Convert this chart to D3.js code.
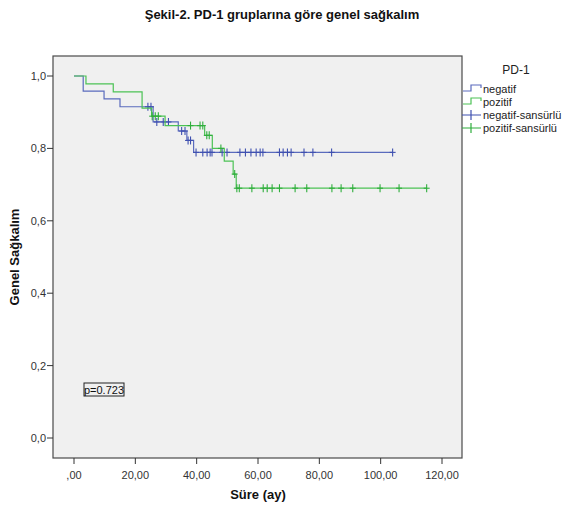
<!DOCTYPE html>
<html>
<head>
<meta charset="utf-8">
<script src="https://cdn.jsdelivr.net/npm/d3@7"></script>
<style>
  body { margin: 0; background: #fff; }
  text { font-family: Arial, "Liberation Sans", sans-serif; }
</style>
</head>
<body>
<svg id="chart" width="563" height="505"></svg>
<script>
// KM step points: time (months) and survival after each step
const negTimes = [0, 3.0, 9.8, 15.0, 25.8, 34.0, 36.8, 39.0]
const negSurv = [1, 0.958, 0.937, 0.915, 0.873, 0.848, 0.822, 0.789]
const negEnd = 103.9
const negCens = [24.1, 25.1, 27.0, 29.1, 30.8, 35.1, 36.2, 37.2, 38.0, 39.8, 42.0, 43.4,
  44.4, 45.0, 48.3, 49.9, 54.1, 55.9, 57.7, 59.4, 60.7, 61.6, 67.0, 68.2, 69.6, 70.8,
  75.0, 77.9, 84.0, 103.9]

const posTimes = [0, 3.9, 12.8, 22.2, 25.3, 29.7, 42.6, 45.1, 49.0, 51.9, 52.9]
const posSurv = [1, 0.978, 0.956, 0.911, 0.889, 0.863, 0.836, 0.80, 0.765, 0.729, 0.690]
const posEnd = 115.0
const posCens = [25.5, 26.5, 27.5, 38.0, 41.1, 42.0, 43.3, 44.1, 47.9, 52.4, 53.1, 53.9,
  58.0, 61.7, 63.0, 64.6, 67.0, 72.1, 75.9, 84.1, 87.1, 90.9, 99.8, 106.0, 115.0]

const xTicks = [0, 20, 40, 60, 80, 100, 120]
const yTicks = [0, 0.2, 0.4, 0.6, 0.8, 1.0]
const legendLabels = ['negatif', 'pozitif', 'negatif-sansürlü', 'pozitif-sansürlü']

const blue = '#5a6bbd'
const blueMark = '#3f50b0'
const green = '#4cc255'
const greenMark = '#2fae3c'

const svg = d3.select('#chart')

const x = d3.scaleLinear().domain([0, 120]).range([74, 442])
const y = d3.scaleLinear().domain([0, 1]).range([438, 76])

const frame = { left: 53, top: 56, right: 462, bottom: 458 }

svg.append('rect')
  .attr('x', frame.left).attr('y', frame.top)
  .attr('width', frame.right - frame.left).attr('height', frame.bottom - frame.top)
  .attr('fill', '#f0f0f0').attr('stroke', '#4a4a4a').attr('stroke-width', 1.2)

// title
svg.append('text')
  .attr('x', 282).attr('y', 19).attr('text-anchor', 'middle')
  .attr('font-size', 13).attr('font-weight', 'bold').attr('fill', '#111')
  .text('Şekil-2. PD-1 gruplarına göre genel sağkalım')

// y axis
const yAxis = svg.append('g')
yAxis.selectAll('line').data(yTicks).join('line')
  .attr('x1', frame.left - 6).attr('x2', frame.left)
  .attr('y1', d => y(d)).attr('y2', d => y(d))
  .attr('stroke', '#333')
yAxis.selectAll('text').data(yTicks).join('text')
  .attr('x', frame.left - 7).attr('y', d => y(d) + 4)
  .attr('text-anchor', 'end').attr('font-size', 11).attr('fill', '#333')
  .text(d => d3.format('.1f')(d).replace('.', ','))

// x axis
const xAxis = svg.append('g')
xAxis.selectAll('line').data(xTicks).join('line')
  .attr('x1', d => x(d)).attr('x2', d => x(d))
  .attr('y1', frame.bottom).attr('y2', frame.bottom + 6)
  .attr('stroke', '#333')
xAxis.selectAll('text').data(xTicks).join('text')
  .attr('x', d => x(d)).attr('y', frame.bottom + 21)
  .attr('text-anchor', 'middle').attr('font-size', 11).attr('fill', '#333')
  .text(d => d === 0 ? ',00' : d3.format('.2f')(d).replace('.', ','))

svg.append('text')
  .attr('x', 258).attr('y', 499).attr('text-anchor', 'middle')
  .attr('font-size', 13).attr('font-weight', 'bold').attr('fill', '#111')
  .text('Süre (ay)')

svg.append('text')
  .attr('transform', 'translate(19,257) rotate(-90)')
  .attr('text-anchor', 'middle')
  .attr('font-size', 13).attr('font-weight', 'bold').attr('fill', '#111')
  .text('Genel Sağkalım')

// curves
function survAt(times, surv, t) {
  let s = surv[0]
  times.forEach((tt, i) => { if (tt <= t) s = surv[i] })
  return s
}

const line = d3.line().x(d => x(d[0])).y(d => y(d[1])).curve(d3.curveStepAfter)

function drawGroup(times, surv, end, cens, col, markCol) {
  const pts = times.map((t, i) => [t, surv[i]])
  pts.push([end, surv[surv.length - 1]])
  svg.append('path').datum(pts)
    .attr('d', line).attr('fill', 'none')
    .attr('stroke', col).attr('stroke-width', 1.2)
  const g = svg.append('g').attr('stroke', markCol).attr('stroke-width', 1.1)
  cens.forEach(t => {
    const cx = x(t), cy = y(survAt(times, surv, t))
    g.append('line').attr('x1', cx).attr('x2', cx).attr('y1', cy - 4).attr('y2', cy + 4)
    g.append('line').attr('x1', cx - 3).attr('x2', cx + 3).attr('y1', cy).attr('y2', cy)
  })
}

drawGroup(negTimes, negSurv, negEnd, negCens, blue, blueMark)
drawGroup(posTimes, posSurv, posEnd, posCens, green, greenMark)

// p value box
svg.append('rect')
  .attr('x', 84).attr('y', 383).attr('width', 40).attr('height', 13)
  .attr('fill', 'none').attr('stroke', '#222').attr('stroke-width', 1)
svg.append('text')
  .attr('x', 104).attr('y', 393.5).attr('text-anchor', 'middle')
  .attr('font-size', 11).attr('fill', '#111').text('p=0.723')

// legend
svg.append('text')
  .attr('x', 516).attr('y', 74).attr('text-anchor', 'middle')
  .attr('font-size', 12).attr('fill', '#222').text('PD-1')

const legY = [89, 102, 115, 128]
const legCols = [blue, green, blueMark, greenMark]
legendLabels.forEach((lab, i) => {
  const yy = legY[i]
  if (i < 2) {
    svg.append('path')
      .attr('d', `M463,${yy + 2}H471V${yy - 4}H481V${yy - 1}`)
      .attr('fill', 'none').attr('stroke', legCols[i]).attr('stroke-width', 1.2)
  } else {
    svg.append('path')
      .attr('d', `M462,${yy}H481M471,${yy - 5}V${yy + 5}`)
      .attr('fill', 'none').attr('stroke', legCols[i]).attr('stroke-width', 1.2)
  }
  svg.append('text')
    .attr('x', 483).attr('y', yy + 4)
    .attr('font-size', 11).attr('fill', '#222').text(lab)
})
</script>
</body>
</html>
